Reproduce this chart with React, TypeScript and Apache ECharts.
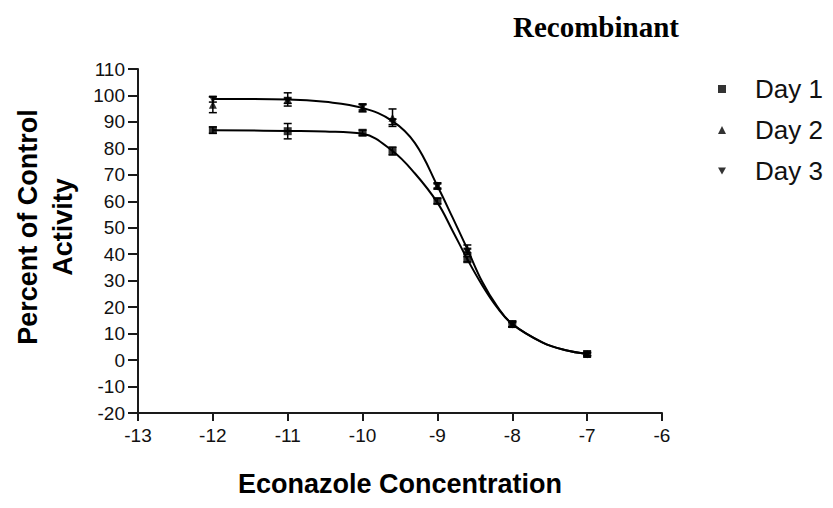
import React, { useEffect, useRef } from "react";
import * as echarts from "echarts";

// Measured concentrations (log M)
const concentrations = [-12, -11, -10, -9.6, -9, -8.6, -8, -7];

// Mean percent of control activity per day
const day1Values = [86.9, 86.5, 85.9, 79.0, 60.1, 38.1, 13.6, 2.3];
const day2Values = [96.5, 98.5, 95.3, 91.6, 66.0, 42.0, 13.6, 2.3];
const day3Values = [98.5, 98.0, 95.5, 90.0, 65.6, 41.0, 13.4, 2.1];

// Error (SEM) per point
const day1Errors = [1.2, 2.9, 1.0, 1.5, 1.0, 1.0, 1.0, 0.6];
const day2Errors = [3.0, 2.5, 1.5, 3.3, 1.0, 1.5, 1.0, 0.6];
const day3Errors = [1.0, 1.0, 1.0, 1.0, 1.0, 1.0, 0.8, 0.5];

// Fitted curves
const fitX = [-12, -11, -10.5, -10, -9.6, -9.3, -9, -8.8, -8.6, -8.4, -8.2, -8, -7.6, -7.3, -7];
const fitLower = [86.9, 86.6, 86.4, 85.5, 79.0, 70.5, 59.5, 49.0, 38.1, 28.2, 19.8, 13.6, 6.7, 3.8, 2.3];
const fitUpper = [98.7, 98.5, 97.6, 95.3, 90.3, 82.0, 65.8, 54.0, 41.9, 29.5, 20.2, 13.6, 6.7, 3.8, 2.3];

const legendNames = ["Day 1", "Day 2", "Day 3"];

const SANS = "'Liberation Sans', Arial, sans-serif";

function zip(xs: number[], ys: number[]) {
  return xs.map((x, i) => [x, ys[i]]);
}
function zip3(xs: number[], ys: number[], es: number[]) {
  return xs.map((x, i) => [x, ys[i], es[i]]);
}

function errorSeries(name: string, data: number[][]) {
  return {
    type: "custom",
    name,
    z: 3,
    silent: true,
    encode: { x: 0, y: 1 },
    data,
    renderItem: (params: any, api: any) => {
      const x = api.value(0);
      const y = api.value(1);
      const e = api.value(2);
      const top = api.coord([x, y + e]);
      const bot = api.coord([x, y - e]);
      const w = 4;
      const st = { stroke: "#000", lineWidth: 1.5 };
      return {
        type: "group",
        children: [
          { type: "line", shape: { x1: top[0], y1: top[1], x2: bot[0], y2: bot[1] }, style: st },
          { type: "line", shape: { x1: top[0] - w, y1: top[1], x2: top[0] + w, y2: top[1] }, style: st },
          { type: "line", shape: { x1: bot[0] - w, y1: bot[1], x2: bot[0] + w, y2: bot[1] }, style: st },
        ],
      };
    },
  };
}

const downTri = "path://M0,0L10,0L5,9Z";

export default function App() {
  const ref = useRef<HTMLDivElement>(null);
  useEffect(() => {
    if (!ref.current) return;
    const chart = echarts.init(ref.current, undefined, { renderer: "svg" });
    chart.setOption({
      animation: false,
      backgroundColor: "#fff",
      grid: { left: 138, top: 69, width: 524, height: 344, outerBoundsMode: "none" },
      xAxis: {
        type: "value",
        min: -13,
        max: -6,
        interval: 1,
        splitLine: { show: false },
        axisLine: { onZero: false, lineStyle: { color: "#1a1a1a", width: 2 } },
        axisTick: { length: 8, lineStyle: { color: "#1a1a1a", width: 2 } },
        axisLabel: { margin: 13, color: "#111", fontSize: 19, fontFamily: SANS },
        name: "Econazole Concentration",
        nameLocation: "middle",
        nameGap: 57,
        nameTextStyle: { color: "#000", fontSize: 27, fontWeight: "bold", fontFamily: SANS },
      },
      yAxis: {
        type: "value",
        min: -20,
        max: 110,
        interval: 10,
        splitLine: { show: false },
        axisLine: { onZero: false, lineStyle: { color: "#1a1a1a", width: 2 } },
        axisTick: { length: 10, lineStyle: { color: "#1a1a1a", width: 2 } },
        axisLabel: { margin: 13, color: "#111", fontSize: 19, fontFamily: SANS },
      },
      legend: {
        data: [
          { name: legendNames[0], icon: "rect" },
          { name: legendNames[1], icon: "triangle" },
          { name: legendNames[2], icon: downTri },
        ],
        orient: "vertical",
        left: 718,
        top: 76,
        padding: 0,
        itemWidth: 8,
        itemHeight: 8,
        itemGap: 15,
        textStyle: { color: "#111", fontSize: 26, fontFamily: SANS, padding: [0, 0, 0, 24] },
      },
      graphic: [
        {
          type: "text",
          x: 596,
          y: 27,
          style: {
            text: "Recombinant",
            fill: "#000",
            font: "bold 29px 'Liberation Serif', 'Times New Roman', serif",
            align: "center",
            verticalAlign: "middle",
          },
        },
        {
          type: "text",
          x: 45,
          y: 227,
          rotation: Math.PI / 2,
          style: {
            text: "Percent of Control\nActivity",
            fill: "#000",
            font: "bold 27px 'Liberation Sans', Arial, sans-serif",
            lineHeight: 35,
            align: "center",
            verticalAlign: "middle",
          },
        },
      ],
      series: [
        {
          type: "line",
          name: "fit-lower",
          data: zip(fitX, fitLower),
          smooth: 0.4,
          showSymbol: false,
          lineStyle: { color: "#000", width: 2 },
          z: 2,
          silent: true,
        },
        {
          type: "line",
          name: "fit-upper",
          data: zip(fitX, fitUpper),
          smooth: 0.4,
          showSymbol: false,
          lineStyle: { color: "#000", width: 2 },
          z: 2,
          silent: true,
        },
        errorSeries("err1", zip3(concentrations, day1Values, day1Errors)),
        errorSeries("err2", zip3(concentrations, day2Values, day2Errors)),
        errorSeries("err3", zip3(concentrations, day3Values, day3Errors)),
        {
          type: "scatter",
          name: legendNames[0],
          data: zip(concentrations, day1Values),
          symbol: "rect",
          symbolSize: 8,
          itemStyle: { color: "#000" },
          z: 4,
        },
        {
          type: "scatter",
          name: legendNames[1],
          data: zip(concentrations, day2Values),
          symbol: "triangle",
          symbolSize: 8,
          itemStyle: { color: "#000" },
          z: 4,
        },
        {
          type: "scatter",
          name: legendNames[2],
          data: zip(concentrations, day3Values),
          symbol: downTri,
          symbolSize: 8,
          itemStyle: { color: "#000" },
          z: 4,
        },
      ],
    });
    return () => chart.dispose();
  }, []);
  return (
    <div
      ref={ref}
      style={{ position: "fixed", left: 0, top: 0, width: 833, height: 508, background: "#fff" }}
    />
  );
}
